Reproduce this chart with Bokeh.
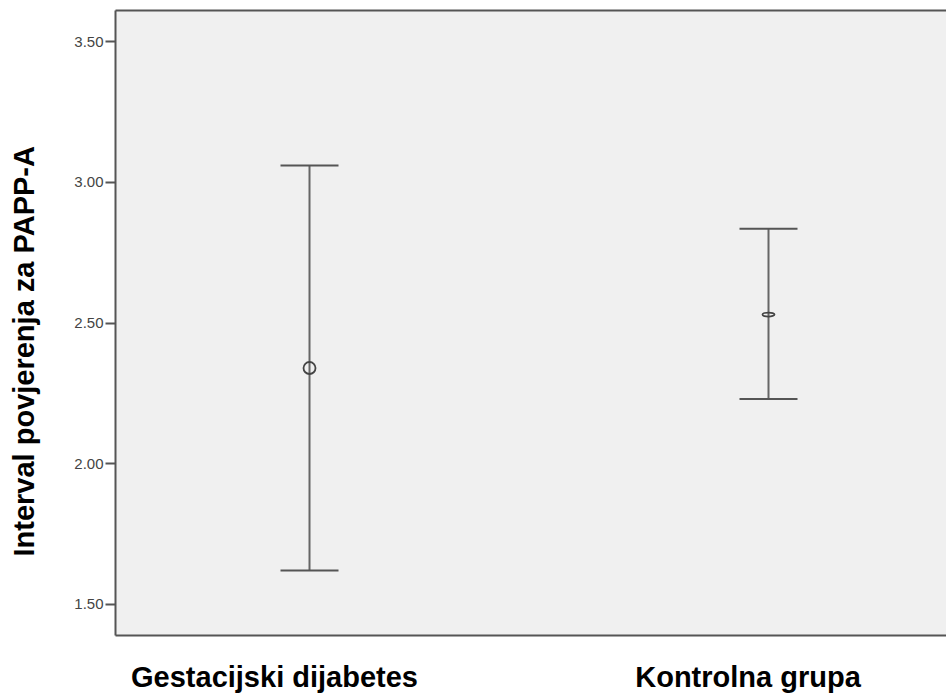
from bokeh.plotting import figure
from bokeh.models import (Range1d, FixedTicker, LinearAxis, Whisker, TeeHead,
                          ColumnDataSource, NumeralTickFormatter, Title)
from bokeh.embed import file_html
from bokeh.resources import INLINE

# ---- data ----
categories = ["Gestacijski dijabetes", "Kontrolna grupa"]
means = [2.34, 2.53]
ci_lower = [1.62, 2.23]
ci_upper = [3.06, 2.835]
y_ticks = [1.5, 2.0, 2.5, 3.0, 3.5]
y_label = "Interval povjerenja za PAPP-A"

# ---- styles ----
marker_heights = [12, 4]

xpos = [i + 1 for i in range(len(categories))]
src = ColumnDataSource(dict(x=xpos, mean=means, lo=ci_lower, hi=ci_upper,
                            h=marker_heights))

y0, y1 = 1.389, 3.611
p = figure(frame_width=831, frame_height=625,
           x_range=Range1d(0.5773, 2.3878), y_range=Range1d(y0, y1),
           output_backend="svg", toolbar_location=None,
           background_fill_color="#f0f0f0", border_fill_color="white",
           x_axis_location=None, y_axis_location=None,
           min_border_left=115, min_border_right=0, min_border_top=10,
           min_border_bottom=10)
p.outline_line_color = None
p.xgrid.visible = False
p.ygrid.visible = False
# layout range for the category names (drawn slightly left, as in the original)
p.extra_x_ranges = {"labels": Range1d(0.6642, 2.4192)}

# left axis
ly = LinearAxis(ticker=FixedTicker(ticks=y_ticks),
                formatter=NumeralTickFormatter(format="0.00"))
ly.axis_line_color = "#555555"
ly.axis_line_width = 2
ly.major_tick_line_color = "#555555"
ly.major_tick_line_width = 2
ly.major_tick_out = 10
ly.major_tick_in = 0
ly.minor_tick_line_color = None
ly.major_label_standoff = 2
ly.major_label_text_font = "Liberation Sans"
ly.major_label_text_font_size = "15px"
ly.major_label_text_color = "#444444"
p.add_layout(ly, "left")

# y title (trailing empty line keeps it clear of the tick labels)
yt = Title(text=y_label + "\n", align="left", offset=79,
           vertical_align="bottom", standoff=0,
           text_font="Liberation Sans", text_font_style="bold",
           text_font_size="29px", text_color="black")
p.add_layout(yt, "left")

# bottom border line
bx = LinearAxis(ticker=FixedTicker(ticks=[]))
bx.axis_line_color = "#555555"
bx.axis_line_width = 2
bx.major_tick_line_color = None
bx.minor_tick_line_color = None
bx.major_label_text_font_size = "0px"
bx.major_tick_out = 0
bx.major_label_standoff = 0
p.add_layout(bx, "below")

# category names
bl = LinearAxis(x_range_name="labels", ticker=FixedTicker(ticks=xpos),
                major_label_overrides={x: c for x, c in zip(xpos, categories)})
bl.axis_line_color = None
bl.major_tick_line_color = None
bl.minor_tick_line_color = None
bl.major_tick_out = 0
bl.major_tick_in = 0
bl.major_label_standoff = 25
bl.major_label_text_font = "Liberation Sans"
bl.major_label_text_font_style = "bold"
bl.major_label_text_font_size = "29px"
bl.major_label_text_color = "black"
p.add_layout(bl, "below")

# top border line
tx = LinearAxis(ticker=FixedTicker(ticks=[]))
tx.axis_line_color = "#555555"
tx.axis_line_width = 2
tx.major_tick_line_color = None
tx.minor_tick_line_color = None
tx.major_label_text_font_size = "0px"
tx.major_tick_out = 0
tx.major_label_standoff = 0
p.add_layout(tx, "above")

# error bars
w = Whisker(base="x", upper="hi", lower="lo", source=src, dimension="height",
            line_color="#666666", line_width=2,
            upper_head=TeeHead(size=58, line_color="#555555", line_width=2),
            lower_head=TeeHead(size=58, line_color="#555555", line_width=2))
p.add_layout(w)

# mean markers
p.ellipse(x="x", y="mean", width=12, height="h", width_units="screen",
          height_units="screen", source=src, fill_color=None,
          line_color="#444444", line_width=1.8)

open("out.html", "w").write(file_html(p, INLINE))
